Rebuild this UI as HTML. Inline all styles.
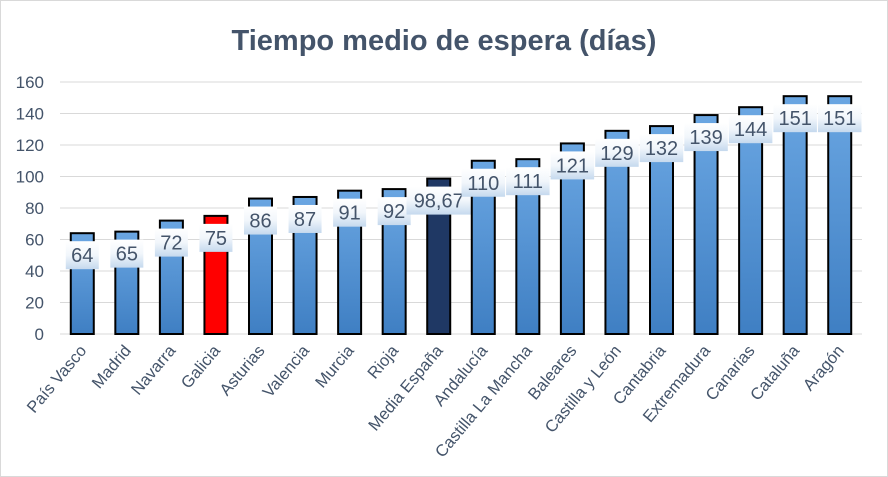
<!DOCTYPE html>
<html><head><meta charset="utf-8"><style>
body{margin:0;background:#fff}
svg{display:block;font-family:"Liberation Sans",sans-serif}
</style></head><body>
<svg id="c" width="888" height="477">
<defs>
<linearGradient id="bg" x1="0" y1="0" x2="0" y2="1"><stop offset="0" stop-color="#6aa6e2"/><stop offset="1" stop-color="#3f7fc3"/></linearGradient>
<linearGradient id="lg" x1="0" y1="0" x2="0" y2="1"><stop offset="0" stop-color="#ffffff"/><stop offset="0.5" stop-color="#f1f6fb"/><stop offset="1" stop-color="#c5d9ee"/></linearGradient>
</defs>
<rect x="0.5" y="0.5" width="887" height="476" fill="#fff" stroke="#d9d9d9"/>
<text x="444" y="50" text-anchor="middle" font-size="29" font-weight="bold" fill="#44546a">Tiempo medio de espera (días)</text>
<g id="g"></g>
</svg>
<script>
const categories=["País Vasco","Madrid","Navarra","Galicia","Asturias","Valencia","Murcia","Rioja","Media España","Andalucía","Castilla La Mancha","Baleares","Castilla y León","Cantabria","Extremadura","Canarias","Cataluña","Aragón"];
const values=[64,65,72,75,86,87,91,92,98.67,110,111,121,129,132,139,144,151,151];
const valueLabels=["64","65","72","75","86","87","91","92","98,67","110","111","121","129","132","139","144","151","151"];
const yTicks=[0,20,40,60,80,100,120,140,160];
const ns="http://www.w3.org/2000/svg",g=document.getElementById("g");
const y0=334,y1=82,x0=60,x1=862;
const y=v=>y0-(v/160)*(y0-y1);
const step=(x1-x0)/categories.length;
const xc=i=>x0+step*(i+0.5);
function mk(t,a){const e=document.createElementNS(ns,t);for(const k in a)e.setAttribute(k,a[k]);g.appendChild(e);return e;}
yTicks.forEach(t=>{
 const l=mk("line",{x1:x0,x2:x1,y1:y(t),y2:y(t),stroke:"#d9d9d9","stroke-width":1});
 
 
 const tx=mk("text",{x:44,y:y(t)+6,"text-anchor":"end","font-size":17,fill:"#44546a"});
 tx.textContent=t;
 
 
});
categories.forEach((c,i)=>{
 const v=values[i],cx=xc(i);
 const fill=c==="Galicia"?"#ff0000":c==="Media España"?"#1f3864":"url(#bg)";
 const b=mk("rect",{x:cx-11.5,y:y(v),width:23,height:y0-y(v),fill:fill,stroke:"#000","stroke-width":2});
 
 
 const lab=valueLabels[i],w=lab.length*10.5+12;
 const ly=y(v)+22;
 const r=mk("rect",{x:cx-w/2,y:ly-14,width:w,height:28,fill:"url(#lg)"});
 
 
 const t=mk("text",{x:cx,y:ly+7,"text-anchor":"middle","font-size":20,fill:"#44546a"});
 t.textContent=lab;
 
 
 const ct=mk("text",{x:cx+5,y:351,"text-anchor":"end","font-size":16.5,fill:"#44546a",transform:`rotate(-50 ${cx+5} 351)`});
 ct.textContent=c;
 
 
});
</script>
</body></html>
